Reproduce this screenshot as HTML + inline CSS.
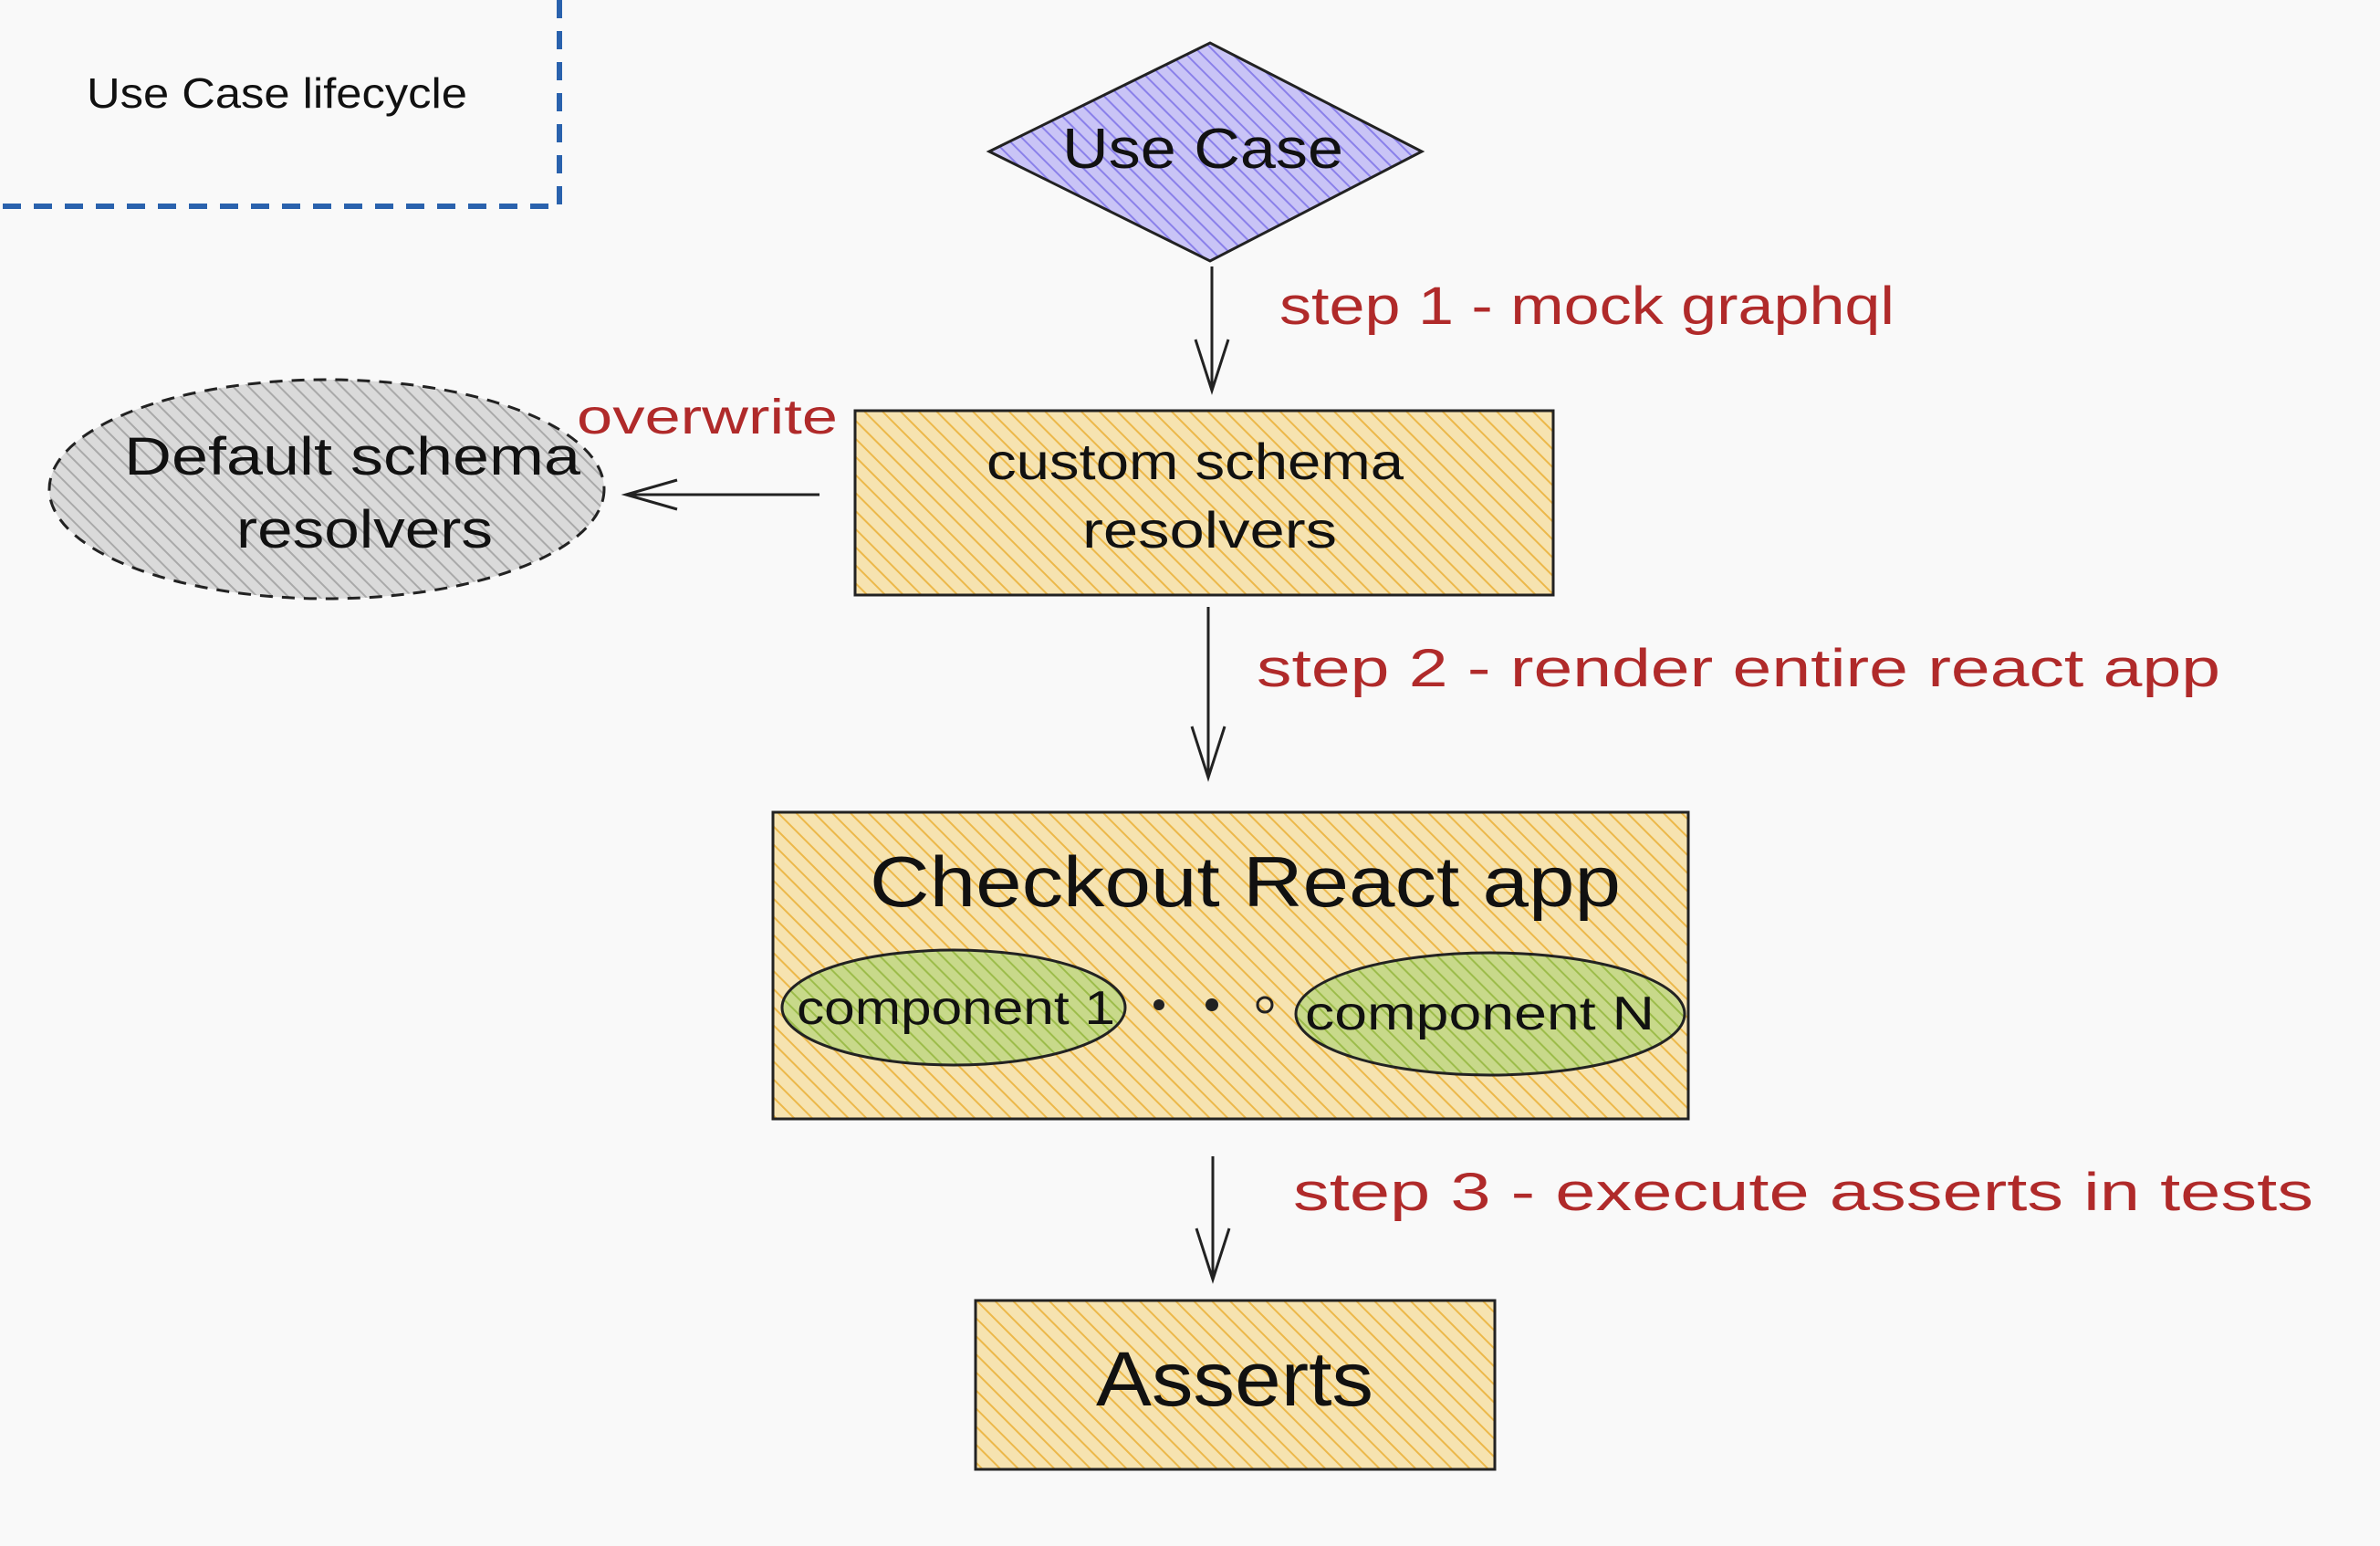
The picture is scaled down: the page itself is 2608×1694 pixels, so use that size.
<!DOCTYPE html>
<html><head><meta charset="utf-8"><style>
html,body{margin:0;padding:0;background:#f9f9f9;}
svg{display:block}
text{font-family:"Liberation Sans",sans-serif;}
</style></head><body>
<svg width="2608" height="1694" viewBox="0 0 2608 1694" xmlns="http://www.w3.org/2000/svg">
<defs>
<pattern id="ho" patternUnits="userSpaceOnUse" width="14" height="14" patternTransform="rotate(-45)">
<rect width="14" height="14" fill="#f6e3b0"/><line x1="0" y1="0" x2="0" y2="14" stroke="#ecb84a" stroke-width="4"/></pattern>
<pattern id="hp" patternUnits="userSpaceOnUse" width="12" height="12" patternTransform="rotate(-45)">
<rect width="12" height="12" fill="#c9c4f6"/><line x1="0" y1="0" x2="0" y2="12" stroke="#8a80ea" stroke-width="4"/></pattern>
<pattern id="hg" patternUnits="userSpaceOnUse" width="12" height="12" patternTransform="rotate(-45)">
<rect width="12" height="12" fill="#dadada"/><line x1="0" y1="0" x2="0" y2="12" stroke="#a9a9a9" stroke-width="4"/></pattern>
<pattern id="hn" patternUnits="userSpaceOnUse" width="12" height="12" patternTransform="rotate(-45)">
<rect width="12" height="12" fill="#c8d98a"/><line x1="0" y1="0" x2="0" y2="12" stroke="#9cbc4a" stroke-width="4"/></pattern>
</defs>
<rect width="2608" height="1694" fill="#f9f9f9"/>
<path d="M613 0 V226 H0" fill="none" stroke="#2a62ad" stroke-width="6" stroke-dasharray="20 14"/>
<text x="95" y="118" font-size="46" fill="#111" textLength="417" lengthAdjust="spacingAndGlyphs">Use Case lifecycle</text>
<polygon points="1084,166 1326,47 1558,166 1326,286" fill="url(#hp)" stroke="#222" stroke-width="3"/>
<text x="1164" y="184" font-size="62" fill="#111" textLength="308" lengthAdjust="spacingAndGlyphs">Use Case</text>
<g stroke="#222" stroke-width="3" fill="none">
<line x1="1328" y1="292" x2="1328" y2="428"/><path d="M1310 372 L1328 428 L1346 372"/>
<line x1="1324" y1="665" x2="1324" y2="852"/><path d="M1306 796 L1324 852 L1342 796"/>
<line x1="1329" y1="1267" x2="1329" y2="1402"/><path d="M1311 1346 L1329 1402 L1347 1346"/>
<line x1="898" y1="542" x2="686" y2="542"/><path d="M742 526 L686 542 L742 558"/>
</g>
<text x="1402" y="355" font-size="58" fill="#b02a2a" textLength="674" lengthAdjust="spacingAndGlyphs">step 1 - mock graphql</text>
<text x="632" y="475" font-size="54" fill="#b02a2a" textLength="286" lengthAdjust="spacingAndGlyphs">overwrite</text>
<text x="1377" y="752" font-size="58" fill="#b02a2a" textLength="1056" lengthAdjust="spacingAndGlyphs">step 2 - render entire react app</text>
<text x="1417" y="1326" font-size="58" fill="#b02a2a" textLength="1118" lengthAdjust="spacingAndGlyphs">step 3 - execute asserts in tests</text>
<rect x="937" y="450" width="765" height="202" fill="url(#ho)" stroke="#222" stroke-width="3"/>
<text x="1081" y="525" font-size="56" fill="#111" textLength="457" lengthAdjust="spacingAndGlyphs">custom schema</text>
<text x="1186" y="600" font-size="56" fill="#111" textLength="279" lengthAdjust="spacingAndGlyphs">resolvers</text>
<ellipse cx="358" cy="536" rx="304" ry="120" fill="url(#hg)" stroke="#222" stroke-width="3" stroke-dasharray="14 10"/>
<text x="136" y="520" font-size="58" fill="#111" textLength="500" lengthAdjust="spacingAndGlyphs">Default schema</text>
<text x="259" y="600" font-size="58" fill="#111" textLength="281" lengthAdjust="spacingAndGlyphs">resolvers</text>
<rect x="847" y="890" width="1003" height="336" fill="url(#ho)" stroke="#222" stroke-width="3"/>
<text x="953" y="993" font-size="78" fill="#111" textLength="823" lengthAdjust="spacingAndGlyphs">Checkout React app</text>
<ellipse cx="1045" cy="1104" rx="188" ry="63" fill="url(#hn)" stroke="#222" stroke-width="3"/>
<text x="873" y="1122" font-size="52" fill="#111" textLength="349" lengthAdjust="spacingAndGlyphs">component 1</text>
<ellipse cx="1633" cy="1111" rx="213" ry="67" fill="url(#hn)" stroke="#222" stroke-width="3"/>
<text x="1430" y="1128" font-size="52" fill="#111" textLength="383" lengthAdjust="spacingAndGlyphs">component N</text>
<circle cx="1270" cy="1101" r="6" fill="#222"/><circle cx="1328" cy="1101" r="7" fill="#222"/><circle cx="1386" cy="1101" r="8" fill="none" stroke="#222" stroke-width="3"/>
<rect x="1069" y="1425" width="569" height="185" fill="url(#ho)" stroke="#222" stroke-width="3"/>
<text x="1201" y="1540" font-size="84" fill="#111" textLength="304" lengthAdjust="spacingAndGlyphs">Asserts</text>
</svg>
</body></html>
